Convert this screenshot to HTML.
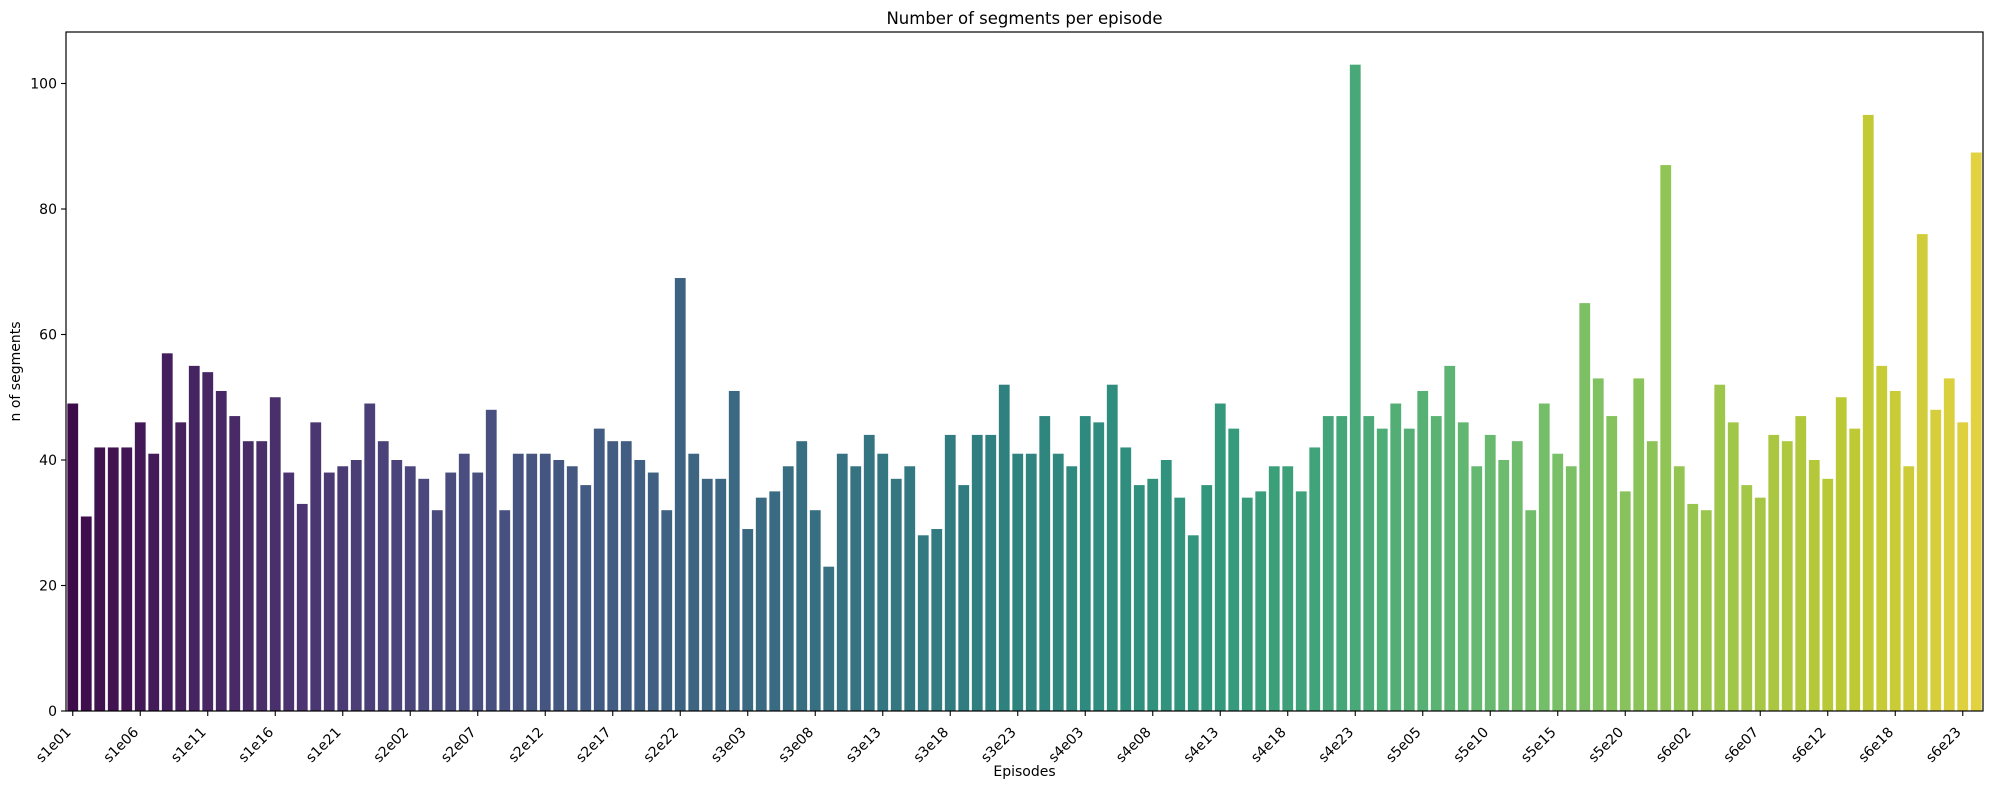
<!DOCTYPE html>
<html><head><meta charset="utf-8">
<style>
html,body{margin:0;padding:0;background:#fff;}
svg{display:block;font-family:"DejaVu Sans","Liberation Sans",sans-serif;}
</style></head>
<body>
<svg id="c" width="1989" height="790" xmlns="http://www.w3.org/2000/svg"></svg>
<script>
const vals=[49,31,42,42,42,46,41,57,46,55,54,51,47,43,43,50,38,33,46,38,39,40,49,43,40,39,37,32,38,41,38,48,32,41,41,41,40,
39,36,45,43,43,40,38,32,69,41,37,37,51,29,34,35,39,43,32,23,41,39,44,41,37,39,28,29,44,36,
44,44,52,41,41,47,41,39,47,46,52,42,36,37,40,34,28,36,49,45,34,35,39,39,35,42,47,47,103,47,
45,49,45,51,47,55,46,39,44,40,43,32,49,41,39,65,53,47,35,53,43,87,39,33,32,52,46,36,34,44,
43,47,40,37,50,45,95,55,51,39,76,48,53,46,89];
const labels=["s1e01","s1e06","s1e11","s1e16","s1e21","s2e02","s2e07","s2e12","s2e17","s2e22","s3e03","s3e08","s3e13","s3e18","s3e23","s4e03","s4e08","s4e13","s4e18","s4e23","s5e05","s5e10","s5e15","s5e20","s6e02","s6e07","s6e12","s6e18","s6e23"];
const vir=[[68,1,84],[72,26,108],[71,47,125],[65,68,135],[57,86,140],[49,104,142],[42,120,142],[35,137,142],[31,154,138],[34,168,132],[53,183,121],[84,197,104],[122,209,81],[165,219,54],[210,226,27],[253,231,37]];
function vcol(t){const p=t*(vir.length-1),i=Math.min(Math.floor(p),vir.length-2),f=p-i;return vir[i].map((a,k)=>a+(vir[i+1][k]-a)*f);}
function desat(c,s){let [r,g,b]=c.map(v=>v/255);const mx=Math.max(r,g,b),mn=Math.min(r,g,b),l=(mx+mn)/2;let h=0,sat=0;
if(mx!==mn){const d=mx-mn;sat=l>0.5?d/(2-mx-mn):d/(mx+mn);
if(mx===r)h=((g-b)/d+(g<b?6:0));else if(mx===g)h=(b-r)/d+2;else h=(r-g)/d+4;h/=6;}
sat*=s;const q=l<0.5?l*(1+sat):l+sat-l*sat,p=2*l-q;
function hf(t){if(t<0)t+=1;if(t>1)t-=1;if(t<1/6)return p+(q-p)*6*t;if(t<1/2)return q;if(t<2/3)return p+(q-p)*(2/3-t)*6;return p;}
return [hf(h+1/3),hf(h),hf(h-1/3)].map(v=>Math.round(v*255));}
const L=66,R=1983,T=32,B=711,n=vals.length,step=(R-L)/n,py=(B-83.5)/100;
let s='';
vals.forEach((v,i)=>{const c=desat(vcol(i/(n-1)),0.75);const x=L+step*i+step*0.1,h=v*py;
s+=`<rect x="${x.toFixed(2)}" y="${(B-h).toFixed(2)}" width="${(step*0.8).toFixed(2)}" height="${h.toFixed(2)}" fill="rgb(${c})"/>`;});
s+=`<rect x="${L}" y="${T}" width="${R-L}" height="${B-T}" fill="none" stroke="#000" stroke-width="1.2"/>`;
for(let v=0;v<=100;v+=20){const y=B-v*py;s+=`<line x1="${L-5}" y1="${y}" x2="${L}" y2="${y}" stroke="#000" stroke-width="1.1"/><text x="${L-9}" y="${y+5}" font-size="14" text-anchor="end">${v}</text>`;}
labels.forEach((t,j)=>{const x=L+step*(j*5+0.5);s+=`<line x1="${x}" y1="${B}" x2="${x}" y2="${B+5}" stroke="#000" stroke-width="1.1"/><text transform="translate(${x-1},${B+22}) rotate(-45)" font-size="14" text-anchor="end">${t}</text>`;});
s+=`<text x="${(L+R)/2}" y="24" font-size="16.5" text-anchor="middle">Number of segments per episode</text>`;
s+=`<text x="${(L+R)/2}" y="776" font-size="14" text-anchor="middle">Episodes</text>`;
s+=`<text transform="translate(20,${(T+B)/2}) rotate(-90)" font-size="14" text-anchor="middle">n of segments</text>`;
document.getElementById('c').innerHTML=s;
</script>
</body></html>
